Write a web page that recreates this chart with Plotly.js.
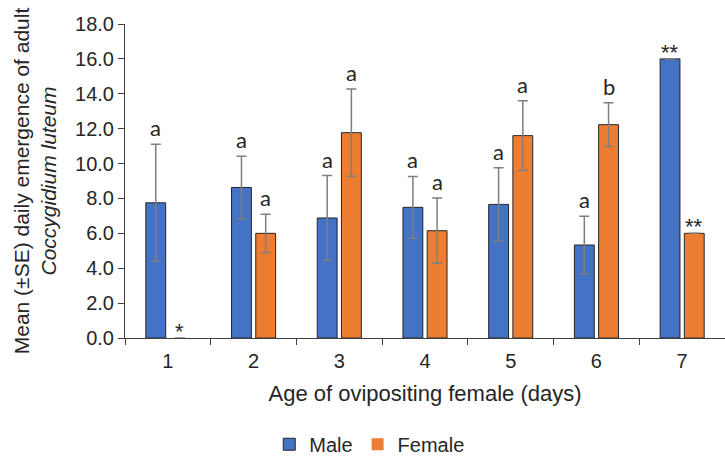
<!DOCTYPE html>
<html>
<head>
<meta charset="utf-8">
<script src="https://cdn.plot.ly/plotly-3.0.1.min.js"></script>
<style>html,body{margin:0;padding:0;background:#fff;}#chart{width:725px;height:458px;}</style>
</head>
<body>
<div id="chart"></div>
<script>
var categories = ['1', '2', '3', '4', '5', '6', '7'];
var maleMean = [7.75, 8.63, 6.88, 7.49, 7.66, 5.33, 16.0];
var maleSE = [3.35, 1.79, 2.43, 1.77, 2.1, 1.65, 0];
var femaleMean = [0, 6.0, 11.77, 6.15, 11.6, 12.23, 6.0];
var femaleSE = [null, 1.1, 2.5, 1.87, 2.0, 1.25, 0];
var maleLabels = ['a', 'a', 'a', 'a', 'a', 'a', '**'];
var femaleLabels = ['*', 'a', 'a', 'a', 'a', 'b', '**'];

var bargap = 0.435;
var off = (1 - bargap) / 4;

var errStyle = {type: 'data', visible: true, color: '#7f7f7f', thickness: 1.5, width: 5};

var femaleLine = femaleMean.map(function (v) { return v > 0 ? 1 : 0; });

var traces = [
  {type: 'bar', name: 'Male', x: categories, y: maleMean,
   error_y: Object.assign({array: maleSE}, errStyle),
   marker: {color: '#4472C4', line: {color: '#262626', width: 1}}},
  {type: 'bar', name: 'Female', x: categories, y: femaleMean,
   error_y: Object.assign({array: femaleSE}, errStyle),
   marker: {color: '#ED7D31', line: {color: '#262626', width: femaleLine}}}
];

var annFont = {family: 'Lato, "Noto Sans", sans-serif', size: 22, color: '#262626'};
var starFont = {family: '"Liberation Sans", Arial, sans-serif', size: 22, color: '#262626'};
function makeAnn(x, y, label) {
  var isStar = label.indexOf('*') >= 0;
  return {x: x, y: y, xref: 'x', yref: 'y', text: label, showarrow: false,
    yanchor: 'bottom', yshift: isStar ? -8 : 1, font: isStar ? starFont : annFont};
}
var annotations = [];
categories.forEach(function (c, i) {
  annotations.push(makeAnn(i - off, maleMean[i] + (maleSE[i] || 0), maleLabels[i]));
  annotations.push(makeAnn(i + off, femaleMean[i] + (femaleSE[i] || 0), femaleLabels[i]));
});

var axisColor = '#404040';
var layout = {
  width: 725, height: 458,
  margin: {l: 125, r: 0, t: 24, b: 120},
  paper_bgcolor: '#fff', plot_bgcolor: '#fff',
  font: {family: '"Liberation Sans", Arial, sans-serif', size: 20, color: '#262626'},
  barmode: 'group', bargap: bargap, bargroupgap: 0.18,
  showlegend: true,
  legend: {orientation: 'h', xref: 'container', yref: 'container', x: 0.51, xanchor: 'center',
    y: 0.03, yanchor: 'middle', font: {size: 20}, traceorder: 'normal', itemwidth: 30},
  xaxis: {type: 'category', showline: true, linecolor: axisColor, linewidth: 1,
    ticks: 'outside', tickson: 'boundaries', ticklen: 6, tickcolor: axisColor,
    ticklabelstandoff: 5,
    showgrid: false, zeroline: false,
    title: {text: 'Age of ovipositing female (days)', standoff: 14, font: {size: 22}}},
  yaxis: {range: [0, 18], dtick: 2, tickformat: '.1f', showline: true, linecolor: axisColor,
    linewidth: 1, ticks: 'outside', ticklen: 6, tickcolor: axisColor, showgrid: false,
    zeroline: false,
    title: {text: 'Mean (±SE) daily emergence of adult<br><i>Coccygidium luteum</i>', standoff: 12, font: {size: 21}}},
  annotations: annotations
};

Plotly.newPlot('chart', traces, layout, {staticPlot: true, displayModeBar: false});
</script>
</body>
</html>
